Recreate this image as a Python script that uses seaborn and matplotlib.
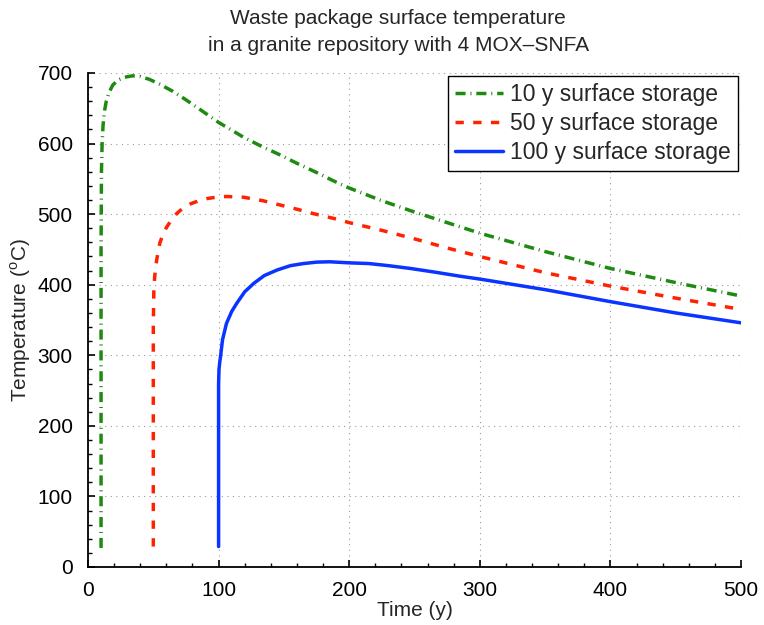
import numpy as np
import pandas as pd
import matplotlib
matplotlib.use("Agg")
import matplotlib.pyplot as plt
from matplotlib.ticker import MultipleLocator, AutoMinorLocator
import seaborn as sns

# ---- data ----
x10 = [10, 10, 10.3, 10.8, 11.5, 12.5, 14, 16, 19, 23, 28, 34, 40, 47, 55, 65, 75, 86,
       100, 110, 120, 133, 147, 160, 175, 187, 200, 225, 250, 275, 300, 350, 400, 450, 500]
y10 = [27, 450, 560, 600, 625, 645, 660, 672, 683, 690, 694, 696, 695, 691, 684, 674, 662, 648,
       630, 619, 608, 596, 584, 572, 559, 548, 537, 519, 503, 488, 473, 447, 423, 403, 384]

x50 = [50, 50, 50.4, 51, 52, 53.5, 55, 57.5, 60, 64, 68, 73, 79, 85, 91, 98, 106, 119, 134,
       147, 160, 172, 188, 200, 225, 250, 275, 300, 350, 400, 450, 500]
y50 = [29, 340, 390, 410, 428, 445, 459, 472, 481, 492, 501, 509, 515, 519, 522, 524, 525, 524, 519,
       513, 507, 501, 494, 488, 477, 465, 452, 440, 417, 398, 381, 365]

x100 = [100, 100, 100.3, 101, 101.6, 103, 106, 110, 114, 120, 127, 135, 145, 155, 165, 175, 185,
        200, 215, 230, 247, 265, 285, 300, 350, 400, 450, 500]
y100 = [29, 260, 280, 292, 300, 322, 345, 362, 374, 390, 402, 413, 421, 427, 430, 432, 432.5,
        431, 430, 427, 423, 418, 412, 408, 393, 376, 360, 346]

labels = ["10 y surface storage", "50 y surface storage", "100 y surface storage"]
colors = ["#1f8a12", "#ff2200", "#0a34ff"]

df = pd.concat([
    pd.DataFrame({"Time": x10, "Temp": y10, "series": labels[0]}),
    pd.DataFrame({"Time": x50, "Temp": y50, "series": labels[1]}),
    pd.DataFrame({"Time": x100, "Temp": y100, "series": labels[2]}),
], ignore_index=True)

sns.set_style("white")
plt.rcParams["font.family"] = ["Liberation Sans", "DejaVu Sans"]
plt.rcParams["mathtext.fontset"] = "custom"
plt.rcParams["mathtext.rm"] = "Liberation Sans"

fig = plt.figure(figsize=(7.64, 6.25), dpi=100)
ax = fig.add_axes([88 / 764, (625 - 567) / 625, (741 - 88) / 764, (567 - 73) / 625])

dashes = {labels[0]: (2.9, 1.4, 0.3, 1.4), labels[1]: (2.4, 2.7), labels[2]: ""}
sns.lineplot(data=df, x="Time", y="Temp", hue="series", style="series",
             palette=dict(zip(labels, colors)), dashes=dashes, sort=False,
             estimator=None, units="series", linewidth=2.5, ax=ax)

ax.set_xlim(0, 500)
ax.set_ylim(0, 700)
ax.xaxis.set_major_locator(MultipleLocator(100))
ax.yaxis.set_major_locator(MultipleLocator(100))
ax.xaxis.set_minor_locator(AutoMinorLocator(5))
ax.yaxis.set_minor_locator(AutoMinorLocator(5))
ax.tick_params(which="major", direction="in", length=5, width=1.2, labelsize=15,
               colors="black")
ax.tick_params(axis="x", which="major", pad=10)
ax.tick_params(axis="y", which="major", pad=11)
ax.tick_params(which="minor", direction="in", length=3, width=1.0, colors="black")
ax.tick_params(left=True, bottom=True, which="both")
ax.grid(True, which="major", linestyle=(0, (1, 4)), color="#999999", linewidth=0.8)
for s in ["top", "right"]:
    ax.spines[s].set_visible(False)
for s in ["left", "bottom"]:
    ax.spines[s].set_color("black")
    ax.spines[s].set_linewidth(1.3)

ax.set_xlabel("Time (y)", fontsize=15, labelpad=1)
ax.set_ylabel(r"Temperature ($^{\mathrm{o}}$C)", fontsize=15, labelpad=3)
ax.set_title("Waste package surface temperature\nin a granite repository with 4 MOX\u2013SNFA",
             fontsize=15, x=0.475, pad=16, linespacing=1.5)

leg = ax.legend(loc="upper right", fontsize=16.5, frameon=True, fancybox=False,
                edgecolor="black", framealpha=1, borderaxespad=0.15, handlelength=2.1,
                handletextpad=0.3, labelspacing=0.25, borderpad=0.3)
leg.get_frame().set_linewidth(1.0)

fig.savefig("out.png", dpi=100)
